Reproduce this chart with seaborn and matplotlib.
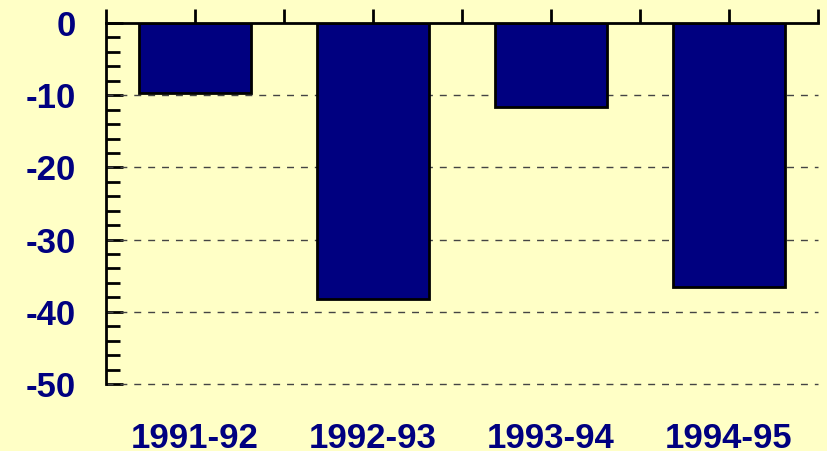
import numpy as np
import matplotlib
matplotlib.use("Agg")
import matplotlib.pyplot as plt
import seaborn as sns
from matplotlib.ticker import MultipleLocator

# === Data ===
years = ["1991-92", "1992-93", "1993-94", "1994-95"]
change = [-9.7, -38.2, -11.6, -36.6]
y_ticks = [0, -10, -20, -30, -40, -50]

BG = "#FFFFC6"
NAVY = "#000080"

sns.set_style("white")
plt.rcParams["font.family"] = ["Liberation Sans", "DejaVu Sans"]

fig = plt.figure(figsize=(8.27, 4.51), dpi=100, facecolor=BG)
ax = fig.add_axes([106 / 827, 1 - 384 / 451, 712 / 827, 361 / 451])
ax.set_facecolor(BG)

sns.barplot(x=years, y=change, color=NAVY, saturation=1, width=0.63,
            edgecolor="black", linewidth=2, ax=ax, zorder=3)

ax.set_ylim(-50, 0)
ax.set_xlim(-0.5, 3.5)
ax.set_yticks(y_ticks)
ax.set_yticklabels([str(t) for t in y_ticks])
ax.yaxis.set_minor_locator(MultipleLocator(2))

# dashed guide lines behind the bars
for t in y_ticks[1:]:
    ax.axhline(t, color="#444444", lw=1, ls=(0, (5, 5)), zorder=1, clip_on=False)

# spines: only top and left
for side in ["bottom", "right"]:
    ax.spines[side].set_visible(False)
for side in ["top", "left"]:
    ax.spines[side].set_color("black")
    ax.spines[side].set_linewidth(2)
    ax.spines[side].set_zorder(4)

ax.tick_params(axis="y", which="both", direction="in", left=True, color="black",
               width=2, pad=22, labelsize=25, labelcolor=NAVY)
ax.tick_params(axis="y", which="major", length=12)
ax.tick_params(axis="y", which="minor", length=10)
for lab in ax.get_yticklabels():
    lab.set_fontweight("bold")

# x: labels at bottom, ticks along the top axis
ax.set_xticks(np.arange(len(years)))
ax.set_xticklabels(years)
ax.set_xticks(np.arange(-0.5, len(years), 1), minor=True)
ax.tick_params(axis="x", which="both", bottom=False, top=True, direction="out",
               length=10, width=2, color="black")
ax.tick_params(axis="x", which="major", pad=17, labelsize=25, labelcolor=NAVY)
for lab in ax.get_xticklabels():
    lab.set_fontweight("bold")

ax.set_xlabel("")
ax.set_ylabel("")

fig.savefig("out.png", dpi=100, facecolor=BG)
